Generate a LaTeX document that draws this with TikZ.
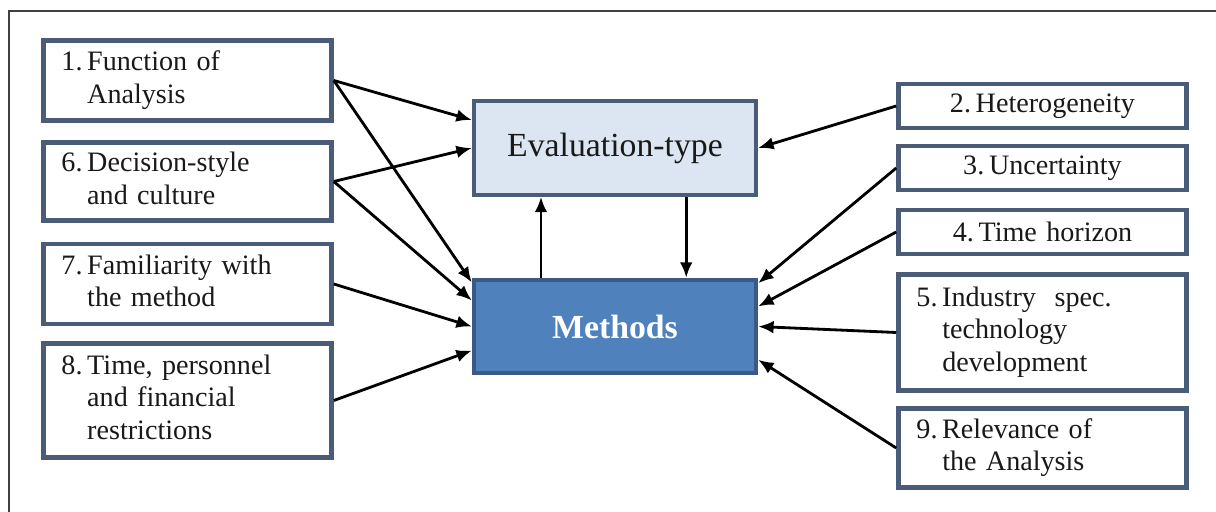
\documentclass[tikz,border=0pt]{standalone}
\usepackage{fontspec}
\setmainfont{Liberation Serif}
\usepackage{tikz}
\usetikzlibrary{arrows.meta}

\definecolor{slate}{RGB}{74,92,120}
\definecolor{paleblue}{RGB}{220,230,242}
\definecolor{midblue}{RGB}{79,129,189}
\definecolor{deepblue}{RGB}{58,90,132}

% number followed by lines that hang under the first word
\newcommand{\numlines}[2]{#1\,\begin{tabular}[t]{@{}l@{}}#2\end{tabular}}

\begin{document}
\begin{tikzpicture}
	[x=0.025cm, y=-0.025cm,
	factor/.style={rectangle,draw=slate,line width=3.2pt,fill=white,
		text width=6.3cm,inner xsep=0.45cm,align=left,
		font=\fontsize{20}{23}\selectfont,text=black!90},
	core/.style={rectangle,line width=3pt,minimum width=7.05cm,
		minimum height=2.33cm,font=\fontsize{24}{28}\selectfont},
	link/.style={-{Latex[length=11pt,width=9pt]},line width=2pt}]
	\useasboundingbox (0,0) rectangle (1216,512);
	\draw [line width=1.5pt,black!75] (1216,11) -- (9,11) -- (9,512);
	% left column
	\node (f1) [factor,minimum height=2.0cm] at (187.5,80.5) {\numlines{1.}{Function of\\Analysis}};
	\node (f6) [factor,minimum height=1.95cm] at (187.5,181.5) {\numlines{6.}{Decision-style\\and culture}};
	\node (f7) [factor,minimum height=2.0cm] at (187.5,284) {\numlines{7.}{Familiarity with\\the method}};
	\node (f8) [factor,minimum height=2.85cm] at (187.5,400.5) {\numlines{8.}{Time, personnel\\and financial\\restrictions}};
	% middle
	\node (eval) [core,draw=slate,fill=paleblue,text=black!90] at (615,148) {Evaluation-type};
	\node (meth) [core,draw=deepblue,fill=midblue,text=white] at (615,326.5) {\textbf{Methods}};
	% right column
	\node (f2) [factor,align=center,minimum height=1.1cm] at (1042.5,106) {2.\,Heterogeneity};
	\node (f3) [factor,align=center,minimum height=1.1cm] at (1042.5,168) {3.\,Uncertainty};
	\node (f4) [factor,align=center,minimum height=1.1cm] at (1042.5,232) {4.\,Time horizon};
	\node (f5) [factor,minimum height=2.9cm] at (1042.5,332.5) {\numlines{5.}{Industry\ \ spec.\\technology\\development}};
	\node (f9) [factor,minimum height=1.98cm] at (1042.5,448) {\numlines{9.}{Relevance of\\the Analysis}};
	% arrows
	\draw [link] (f1.east) -- ([yshift=0.7cm]eval.west);
	\draw [link] (f1.east) -- ([yshift=1.1cm]meth.west);
	\draw [link] (f6.east) -- (eval.west);
	\draw [link] (f6.east) -- ([yshift=0.65cm]meth.west);
	\draw [link] (f7.east) -- (meth.west);
	\draw [link] (f8.east) -- ([yshift=-0.6cm]meth.west);
	\draw [link] (f2.west) -- (eval.east);
	\draw [link] (f3.west) -- ([yshift=1.08cm]meth.east);
	\draw [link] (f4.west) -- ([yshift=0.5cm]meth.east);
	\draw [link] (f5.west) -- (meth.east);
	\draw [link] (f9.west) -- ([yshift=-0.83cm]meth.east);
	\draw [link] ([xshift=-1.85cm]meth.north) -- ([xshift=-1.85cm]eval.south);
	\draw [link] ([xshift=1.78cm]eval.south) -- ([xshift=1.78cm]meth.north);
\end{tikzpicture}
\end{document}
